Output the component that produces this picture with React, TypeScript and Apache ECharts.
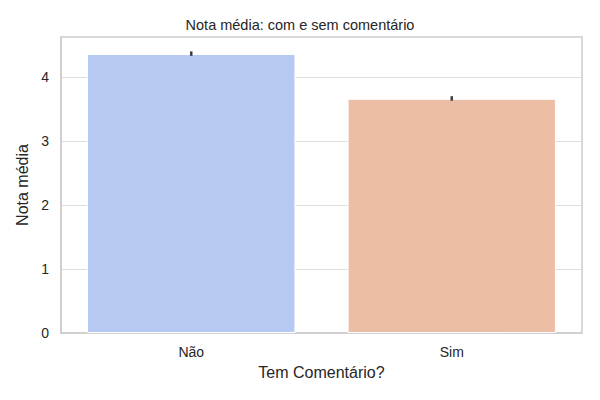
import React, { useEffect, useRef } from "react";
import * as echarts from "echarts";

const categories = ["Não", "Sim"];
const values = [4.36, 3.66];
const errLow = [4.33, 3.63];
const errHigh = [4.4, 3.7];
const colors = ["#b5c9f2", "#ecbea6"];
const yTicks = [0, 1, 2, 3, 4];

export default function App() {
  const ref = useRef<HTMLDivElement>(null);
  useEffect(() => {
    const chart = echarts.init(ref.current!, null, { renderer: "svg" });
    const font = "Liberation Sans, Arial, sans-serif";
    chart.setOption({
      animation: false,
      title: {
        text: "Nota média: com e sem comentário",
        left: "center",
        top: 12,
        textStyle: { fontSize: 14.5, fontWeight: "normal", color: "#262626", fontFamily: font },
      },
      grid: {
        left: 61,
        right: 18,
        top: 37,
        bottom: 67,
        show: true,
        borderColor: "#cccccc",
        borderWidth: 1.5,
        backgroundColor: "transparent",
      },
      xAxis: {
        type: "category",
        data: categories,
        name: "Tem Comentário?",
        nameLocation: "middle",
        nameGap: 31,
        nameTextStyle: { fontSize: 16, color: "#262626", fontFamily: font },
        axisLine: { show: true, lineStyle: { color: "#cccccc", width: 1.5 } },
        axisTick: { show: false },
        axisLabel: { fontSize: 14, color: "#262626", margin: 12, fontFamily: font },
      },
      yAxis: {
        type: "value",
        min: 0,
        max: 4.625,
        interval: 1,
        name: "Nota média",
        nameLocation: "middle",
        nameGap: 29,
        nameTextStyle: { fontSize: 16, color: "#262626", fontFamily: font },
        axisLine: { show: true, lineStyle: { color: "#cccccc", width: 1.5 } },
        axisTick: { show: false },
        axisLabel: {
          fontSize: 14,
          color: "#262626",
          margin: 12,
          fontFamily: font,
          showMaxLabel: false,
          formatter: (v: number) => (yTicks.includes(v) ? String(v) : ""),
        },
        splitLine: { show: true, lineStyle: { color: "#dddddd", width: 1.2 } },
      },
      series: [
        {
          type: "bar",
          barCategoryGap: "20%",
          data: values.map((v, i) => ({
            value: v,
            itemStyle: { color: colors[i], borderColor: "#ffffff", borderWidth: 1 },
          })),
          z: 2,
        },
        {
          type: "custom",
          z: 5,
          data: categories.map((c, i) => [i, errLow[i], errHigh[i]]),
          renderItem: (params: any, api: any) => {
            const x = api.value(0);
            const p1 = api.coord([x, api.value(1)]);
            const p2 = api.coord([x, api.value(2)]);
            return {
              type: "line",
              shape: { x1: p1[0], y1: p1[1], x2: p2[0], y2: p2[1] },
              style: { stroke: "#3d3d3d", lineWidth: 2.5 },
            };
          },
        },
      ],
    });
    return () => chart.dispose();
  }, []);
  return <div ref={ref} style={{ width: 600, height: 400, position: "absolute", left: 0, top: 0 }} />;
}
